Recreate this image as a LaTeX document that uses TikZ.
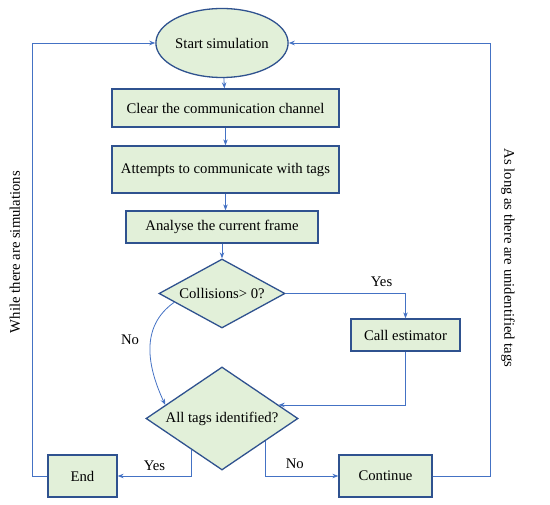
\documentclass[tikz,border=0pt]{standalone}
\usepackage{fontspec}
\setmainfont{Liberation Serif}
\usepackage{xcolor}
\usepackage{tikz}
\usetikzlibrary{positioning,arrows.meta,shapes.geometric,calc}
\definecolor{boxfill}{HTML}{E2F0D9}
\definecolor{boxline}{HTML}{2F528F}
\definecolor{arrline}{HTML}{4472C4}
\tikzset{
 flowbox/.style={draw=boxline, fill=boxfill, line width=1.3pt, inner sep=0pt},
 procbox/.style={flowbox, rectangle},
 testbox/.style={flowbox, diamond},
 startbox/.style={flowbox, ellipse},
 flowarr/.style={draw=arrline, line width=0.8pt, -{Stealth[length=6pt,width=4.5pt]}},
 flowline/.style={draw=arrline, line width=0.8pt},
}

\begin{document}
\begin{tikzpicture}[x=1pt, y=-1pt, font=\fontsize{14.7}{17}\selectfont]
\useasboundingbox (0,0) rectangle (550,505);
\node[startbox, minimum width=130, minimum height=69] (start) at (222,43) {Start simulation};
\node[procbox, minimum width=227, minimum height=38] (clear) at (225.5,108) {Clear the communication channel};
\node[procbox, minimum width=227, minimum height=47] (attempt) at (225.5,169.5) {Attempts to communicate with tags};
\node[procbox, minimum width=192, minimum height=32] (analyse) at (222,227) {Analyse the current frame};
\node[testbox, aspect=1.83, minimum width=126, minimum height=69] (coll) at (222,293.5) {Collisions> 0?};
\node[procbox, minimum width=109, minimum height=32] (call) at (405.5,335) {Call estimator};
\node[testbox, aspect=1.48, minimum width=152, minimum height=103] (alltags) at (222,418.5) {All tags identified?};
\node[procbox, minimum width=69, minimum height=42] (end) at (82.5,476) {End};
\node[procbox, minimum width=93, minimum height=42] (cont) at (385.5,476) {Continue};

\coordinate (lc) at (32,43);
\coordinate (rc) at (490,43);
\coordinate (nostart) at ($(coll.west)!0.25!(coll.south)$);
\coordinate (noend) at ($(alltags.west)!0.26!(alltags.north)$);
\coordinate (estend) at ($(alltags.east)!0.26!(alltags.north)$);
\coordinate (yesout) at ($(alltags.west)!0.6!(alltags.south)$);
\coordinate (noout) at ($(alltags.east)!0.43!(alltags.south)$);

\draw[flowarr] (start) -- (clear);
\draw[flowarr] (clear) -- (attempt);
\draw[flowarr] (attempt.south) -- (attempt.south |- analyse.north);
\draw[flowarr] (analyse) -- (coll);
\draw[flowarr] (coll.east) -| node[pos=0.4, above=3pt] {Yes} (call.north);
\draw[flowarr] (call.south) |- (estend);
\draw[flowarr] (nostart) to[out=215, in=115, looseness=1.05] node[pos=0.42, left=8pt] {No} (noend);
\draw[flowarr] (yesout) |- node[pos=0.75, above=2pt] {Yes} (end.east);
\draw[flowarr] (noout) |- node[pos=0.7, above=4pt] {No} (cont.west);
\draw[flowarr] (end.west) -| (lc) -- (start.west);
\draw[flowarr] (cont.east) -| (rc) -- (start.east);

\node[rotate=90] (whilelbl) at (15,252) {While there are simulations};
\node[rotate=-90] (aslonglbl) at (508,258) {As long as there are unidentified tags};
\end{tikzpicture}
\end{document}
